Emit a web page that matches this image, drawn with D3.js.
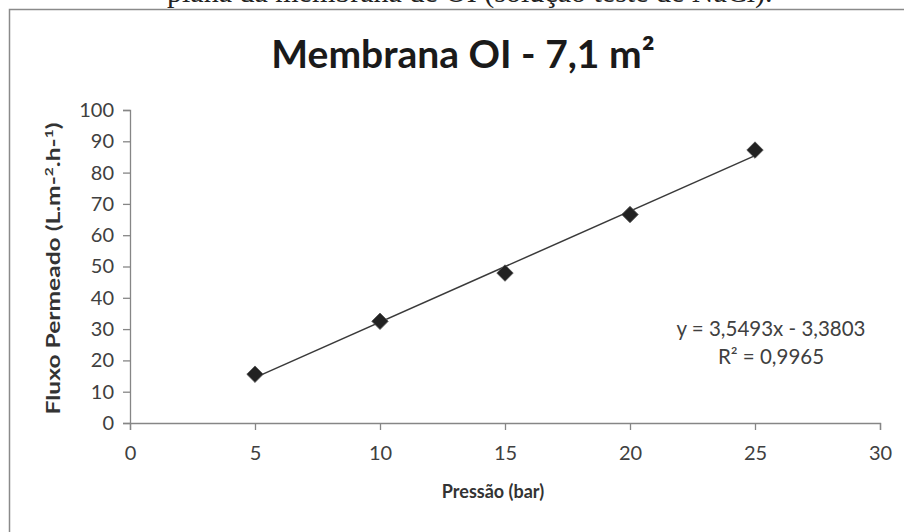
<!DOCTYPE html>
<html>
<head>
<meta charset="utf-8">
<script src="https://cdn.jsdelivr.net/npm/d3@7"></script>
<style>
  body { margin: 0; background: #fff; }
  svg { display: block; }
</style>
</head>
<body>
<div id="chart"></div>
<script>
// data
let pressao = [5, 10, 15, 20, 25];          // bar
let fluxo = [15.6, 32.5, 47.9, 66.6, 87.2]; // L.m-2.h-1
let xTicks = [0, 5, 10, 15, 20, 25, 30];
let yTicks = [0, 10, 20, 30, 40, 50, 60, 70, 80, 90, 100];
let equacao = ["y = 3,5493x - 3,3803", "R² = 0,9965"];

let width = 904, height = 532;
let margin = {top: 110, right: 24, bottom: 109, left: 130}; // plot area edges
let axisColor = "#868686";
let sansFont = "Lato, 'Open Sans', sans-serif";

let svg = d3.select("#chart").append("svg")
            .attr("width", width)
            .attr("height", height);

//Caption line of the document, cut at the top
svg.append("text")
   .attr("x", 167)
   .attr("y", 2)
   .style("font-family", "'Liberation Serif', 'Times New Roman', serif")
   .style("font-size", "30px")
   .style("fill", "#222")
   .text("plana da membrana de OI (solução teste de NaCl).");

//Chart frame (only left and top edge are inside the picture)
svg.append("path")
   .attr("d", "M9.5,540 V9.5 H910")
   .style("fill", "none")
   .style("stroke", "#8a8a8a")
   .style("stroke-width", 1.5);

let x = d3.scaleLinear().domain([0, 30]).range([margin.left, width - margin.right]);
let y = d3.scaleLinear().domain([0, 100]).range([height - margin.bottom, margin.top]);

//Axes
let xAxis = svg.append("g")
   .attr("transform", "translate(0," + y(0) + ")")
   .call(d3.axisBottom(x).tickValues(xTicks).tickSize(7).tickPadding(16));
let yAxis = svg.append("g")
   .attr("transform", "translate(" + x(0) + ",0)")
   .call(d3.axisLeft(y).tickValues(yTicks).tickSize(7).tickPadding(9));

[xAxis, yAxis].forEach(function(a) {
    a.select(".domain").style("stroke", axisColor).style("stroke-width", 1.3);
    a.selectAll(".tick line").style("stroke", axisColor).style("stroke-width", 1.3);
    a.selectAll(".tick text")
     .style("font-family", sansFont)
     .style("font-size", "20px")
     .style("fill", "#404040");
});

//Trendline: least squares from the points
let mx = d3.mean(pressao), my = d3.mean(fluxo);
let sxy = d3.sum(pressao, (d, i) => (d - mx) * (fluxo[i] - my));
let sxx = d3.sum(pressao, d => (d - mx) * (d - mx));
let slope = sxy / sxx;
let intercept = my - slope * mx;
let xMin = d3.min(pressao), xMax = d3.max(pressao);

svg.append("line")
   .attr("x1", x(xMin)).attr("y1", y(slope * xMin + intercept))
   .attr("x2", x(xMax)).attr("y2", y(slope * xMax + intercept))
   .style("stroke", "#3a3a3a")
   .style("stroke-width", 1.5);

//Diamond markers
let diamond = d3.symbol().type(d3.symbolSquare).size(135);
svg.append("g").selectAll("path")
   .data(pressao)
   .join("path")
   .attr("d", diamond)
   .attr("transform", (d, i) => "translate(" + x(d) + "," + y(fluxo[i]) + ") rotate(45)")
   .style("fill", "#222")
   .style("stroke", "#555")
   .style("stroke-width", 0.8);

//Title
svg.append("text")
   .attr("x", 463)
   .attr("y", 68)
   .attr("text-anchor", "middle")
   .style("font-family", sansFont)
   .style("font-weight", "bold")
   .style("font-size", "39px")
   .style("fill", "#1a1a1a")
   .text("Membrana OI - 7,1 m²");

//Axis titles
svg.append("text")
   .attr("x", 493)
   .attr("y", 498)
   .attr("text-anchor", "middle")
   .style("font-family", sansFont)
   .style("font-weight", "bold")
   .style("font-size", "18px")
   .style("fill", "#333")
   .text("Pressão (bar)");

//y title looks stretched along its length in the picture
let yTitle = svg.append("text")
   .attr("transform", "translate(60," + (y(50) + 2) + ") rotate(-90)")
   .attr("text-anchor", "middle")
   .attr("textLength", 292)
   .attr("lengthAdjust", "spacingAndGlyphs")
   .style("font-family", sansFont)
   .style("font-weight", "bold")
   .style("font-size", "19px")
   .style("fill", "#333");
yTitle.append("tspan").text("Fluxo Permeado (L.m-");
yTitle.append("tspan").attr("dy", -7).style("font-size", "12px").text("2");
yTitle.append("tspan").attr("dy", 7).text(".h-");
yTitle.append("tspan").attr("dy", -7).style("font-size", "12px").text("1");
yTitle.append("tspan").attr("dy", 7).text(")");

//Regression equation
svg.append("g").selectAll("text")
   .data(equacao)
   .join("text")
   .attr("x", 771)
   .attr("y", (d, i) => 336 + i * 28)
   .attr("text-anchor", "middle")
   .style("font-family", sansFont)
   .style("font-size", "20.5px")
   .style("fill", "#404040")
   .text(d => d);
</script>
</body>
</html>
